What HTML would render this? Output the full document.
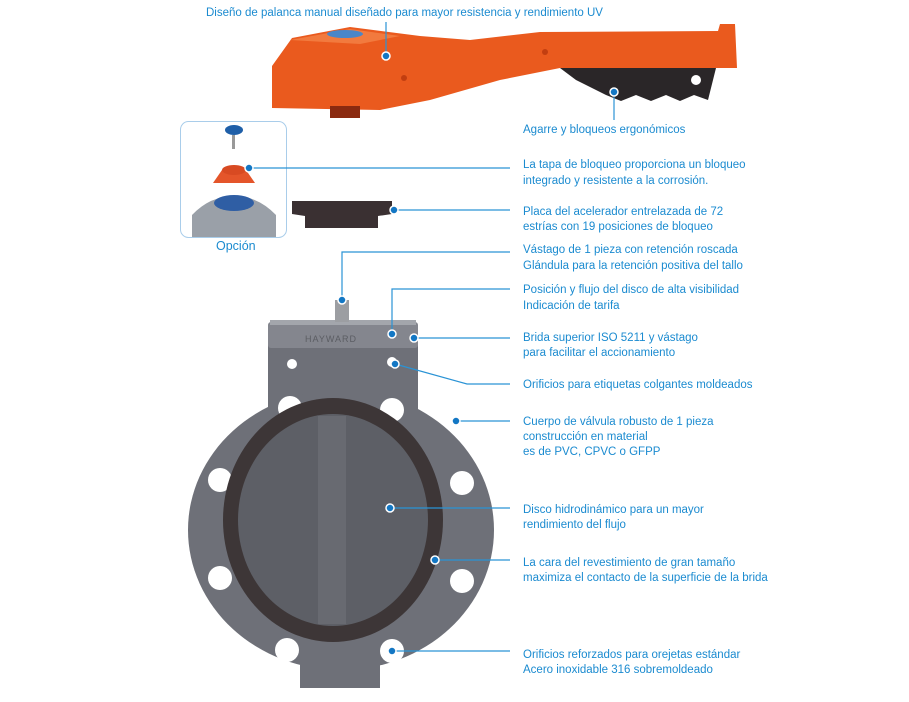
<!DOCTYPE html>
<html><head><meta charset="utf-8"><style>
html,body{margin:0;padding:0;background:#fff}
svg{display:block}
text{font-family:"Liberation Sans",sans-serif;font-size:11.5px;fill:#1b8bd0}
.l{stroke:#2a93d5;stroke-width:1.2;fill:none}
.d{fill:#1377c4;stroke:#fff;stroke-width:1.5}
</style></head><body>
<svg width="909" height="702" viewBox="0 0 909 702">
<!-- handle -->
<polygon points="272,66 292,38 350,27 420,36 470,40 540,32 718,31 720,24 735,24 737,68 560,68 500,80 430,100 380,110 272,108" fill="#ea5a1e"/>
<polygon points="290,40 350,29 400,36 360,44" fill="#f27a3e"/>
<ellipse cx="345" cy="34" rx="18" ry="4" fill="#4a86c8"/>
<rect x="330" y="106" width="30" height="12" fill="#8a2a10"/>
<polygon points="560,68 716,68 708,100 694,95 680,101 666,95 651,101 636,95 621,101 606,95 592,88 576,80" fill="#2a2628"/>
<circle cx="696" cy="80" r="5" fill="#fff"/>
<circle cx="404" cy="78" r="3" fill="#c23e10"/>
<circle cx="545" cy="52" r="3" fill="#c23e10"/>
<!-- option box -->
<rect x="180.5" y="121.5" width="106" height="116" rx="8" fill="#fff" stroke="#a9cdea"/>
<ellipse cx="234" cy="130" rx="9" ry="5" fill="#1f5fa8"/>
<rect x="232" y="135" width="3" height="14" fill="#999"/>
<polygon points="222,170 246,170 255,183 213,183" fill="#e4552a"/>
<ellipse cx="234" cy="170" rx="12" ry="5" fill="#d84a22"/>
<path d="M192,237 L192,215 Q210,196 234,196 Q258,196 276,215 L276,237 Z" fill="#9aa0a8"/>
<ellipse cx="234" cy="203" rx="20" ry="8" fill="#2f5ea4"/>
<text x="216" y="250" style="font-size:12.5px">Opción</text>
<!-- ring -->
<polygon points="292,201 392,201 392,214 378,216 378,228 305,228 305,216 292,214" fill="#3a3032"/>
<!-- valve body -->
<rect x="268" y="336" width="150" height="80" fill="#6e7078"/>
<rect x="268" y="322" width="150" height="26" rx="3" fill="#84868e"/>
<rect x="270" y="320" width="146" height="5" fill="#a3a6ac"/>
<rect x="335" y="300" width="14" height="22" fill="#9c9ea2"/>
<text x="305" y="342" style="font-size:9px;fill:#5b5d63;letter-spacing:1px">HAYWARD</text>
<ellipse cx="341" cy="530" rx="153" ry="140" fill="#6e7078"/>
<rect x="300" y="640" width="80" height="48" fill="#6e7078"/>
<circle cx="290" cy="408" r="12" fill="#fff"/><circle cx="392" cy="410" r="12" fill="#fff"/>
<circle cx="220" cy="480" r="12" fill="#fff"/><circle cx="462" cy="483" r="12" fill="#fff"/>
<circle cx="220" cy="578" r="12" fill="#fff"/><circle cx="462" cy="581" r="12" fill="#fff"/>
<circle cx="287" cy="650" r="12" fill="#fff"/><circle cx="392" cy="651" r="12" fill="#fff"/>
<circle cx="292" cy="364" r="5" fill="#fff"/><circle cx="392" cy="362" r="5" fill="#fff"/>
<ellipse cx="333" cy="520" rx="110" ry="122" fill="#3d3637"/>
<ellipse cx="333" cy="520" rx="95" ry="106" fill="#5d5f66"/>
<rect x="318" y="416" width="28" height="208" fill="#686a71"/>
<!-- leaders -->
<path class="l" d="M386,22 V56"/><circle class="d" cx="386" cy="56" r="4"/>
<path class="l" d="M614,92 V120"/><circle class="d" cx="614" cy="92" r="4"/>
<path class="l" d="M249,168 H510"/><circle class="d" cx="249" cy="168" r="4"/>
<path class="l" d="M394,210 H510"/><circle class="d" cx="394" cy="210" r="4"/>
<path class="l" d="M342,300 V252 H510"/><circle class="d" cx="342" cy="300" r="4"/>
<path class="l" d="M392,334 V289 H510"/><circle class="d" cx="392" cy="334" r="4"/>
<path class="l" d="M414,338 H510"/><circle class="d" cx="414" cy="338" r="4"/>
<path class="l" d="M395,364 L467,384 H510"/><circle class="d" cx="395" cy="364" r="4"/>
<path class="l" d="M456,421 H510"/><circle class="d" cx="456" cy="421" r="4"/>
<path class="l" d="M390,508 H510"/><circle class="d" cx="390" cy="508" r="4"/>
<path class="l" d="M435,560 H510"/><circle class="d" cx="435" cy="560" r="4"/>
<path class="l" d="M392,651 H510"/><circle class="d" cx="392" cy="651" r="4"/>
<!-- labels -->
<text x="206" y="16">Diseño de palanca manual diseñado para mayor resistencia y rendimiento UV</text>
<text x="523" y="133">Agarre y bloqueos ergonómicos</text>
<text x="523" y="168">La tapa de bloqueo proporciona un bloqueo</text>
<text x="523" y="184">integrado y resistente a la corrosión.</text>
<text x="523" y="215">Placa del acelerador entrelazada de 72</text>
<text x="523" y="230">estrías con 19 posiciones de bloqueo</text>
<text x="523" y="253">Vástago de 1 pieza con retención roscada</text>
<text x="523" y="269">Glándula para la retención positiva del tallo</text>
<text x="523" y="293">Posición y flujo del disco de alta visibilidad</text>
<text x="523" y="309">Indicación de tarifa</text>
<text x="523" y="341">Brida superior ISO 5211 y vástago</text>
<text x="523" y="356">para facilitar el accionamiento</text>
<text x="523" y="388">Orificios para etiquetas colgantes moldeados</text>
<text x="523" y="425">Cuerpo de válvula robusto de 1 pieza</text>
<text x="523" y="440">construcción en material</text>
<text x="523" y="455">es de PVC, CPVC o GFPP</text>
<text x="523" y="513">Disco hidrodinámico para un mayor</text>
<text x="523" y="528">rendimiento del flujo</text>
<text x="523" y="566">La cara del revestimiento de gran tamaño</text>
<text x="523" y="581">maximiza el contacto de la superficie de la brida</text>
<text x="523" y="658">Orificios reforzados para orejetas estándar</text>
<text x="523" y="673">Acero inoxidable 316 sobremoldeado</text>
</svg>
</body></html>
